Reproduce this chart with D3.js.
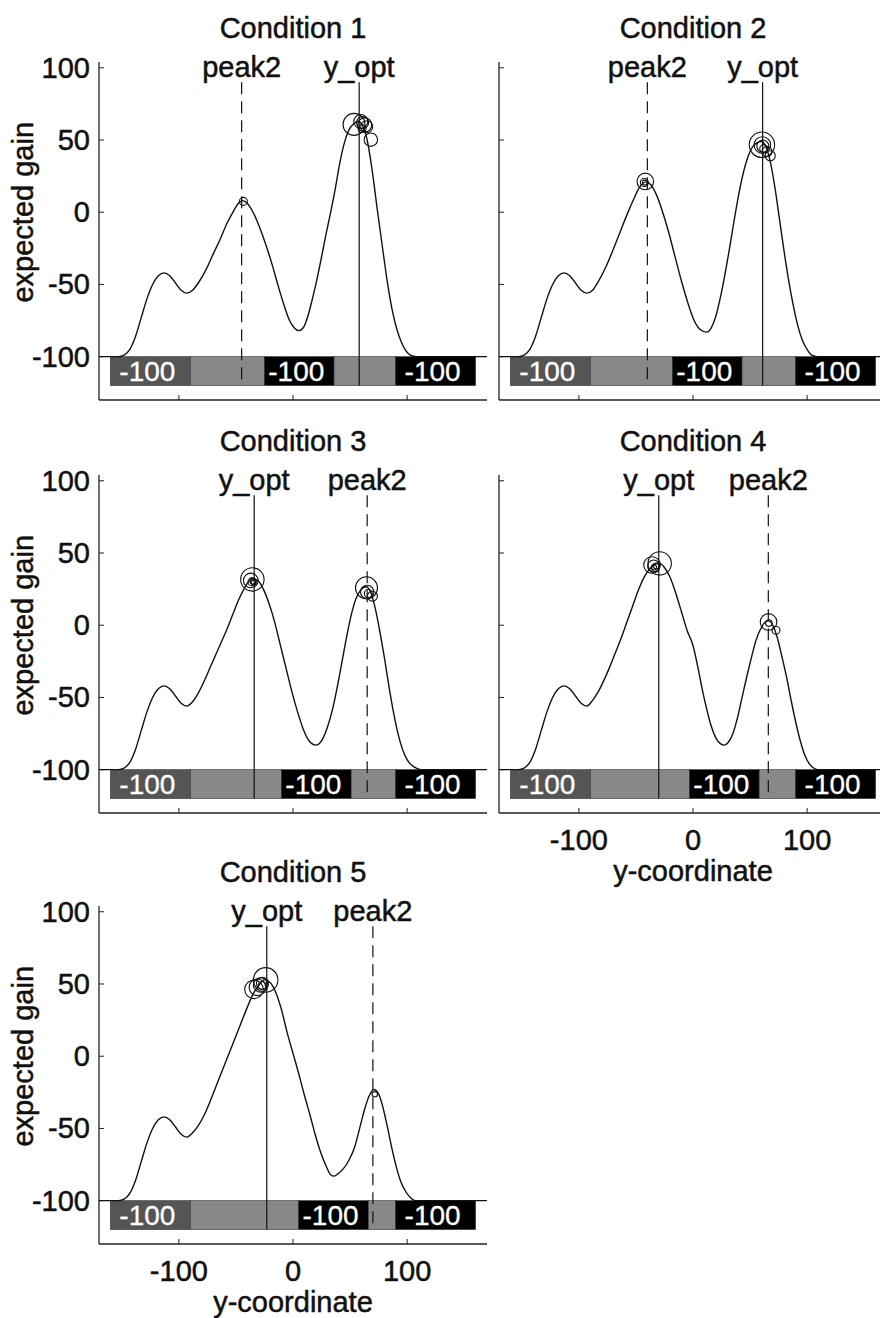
<!DOCTYPE html>
<html>
<head>
<meta charset="utf-8">
<script src="https://cdn.jsdelivr.net/npm/d3@7"></script>
<style>
  body { margin: 0; background: #fff; }
  text { font-family: "Liberation Sans", Arial, sans-serif; fill: #111; stroke: #111; stroke-width: 0.5px; }
  text.zlab { fill: #fff; stroke: #fff; stroke-width: 0.3px; }
</style>
</head>
<body>
<script>

var titles = ["Condition 1", "Condition 2", "Condition 3", "Condition 4", "Condition 5"]
var yTicks = [-100, -50, 0, 50, 100]
var xTicks = [-100, 0, 100]
var penaltyLabel = "-100"

// payoff zones under each plot
var zoneEdges = [-160, -90, 90, 160]
var blackStart = [-25, -18, -10, -3, 5]
var blackEnd = [36, 43, 51, 58, 66]

// marked positions
var peak2X = [-45, -40, 65, 66, 70]
var yOptX = [58, 61, -34, -30, -23]

// expected gain curves
var gain1 = [[-170,-100],[-153,-100],[-148,-99],[-143,-95],[-138,-86],[-133,-73],[-128,-60],[-123,-50],[-118,-44],[-113,-42],[-108,-44],[-103,-49],[-98,-54],[-93,-56],[-88,-54],
  [-83,-49],[-77,-41],[-70,-29],[-64,-19],[-58,-8],[-52,1],[-48,6],[-44,8],[-40,6],[-35,0],[-30,-9],[-24,-22],[-18,-37],[-13,-51],[-8,-64],[-3,-75],[1,-80],[5,-82],[9,-80],[13,-72],[17,-60],
  [20,-50],[25,-31],[29,-15],[33,0],[37,16],[41,34],[45,48],[49,57],[53,61],[57,63],[61,60],[65,50],[69,31],[74,1],[78,-22],[83,-50],[87,-68],[91,-81],[95,-90],[99,-96],[103,-99],[108,-100],[170,-100]]

var gain2 = [[-170,-100],[-153,-100],[-148,-99],[-143,-95],[-138,-86],[-133,-73],[-128,-60],[-123,-50],[-118,-44],[-113,-42],[-108,-44],[-103,-49],[-98,-54],[-93,-56],[-88,-54],
  [-83,-48],[-77,-39],[-70,-26],[-64,-14],[-58,-2],[-52,9],[-47,17],[-41,21],[-37,19],[-32,12],[-27,1],[-22,-12],[-16,-30],[-10,-48],[-4,-64],[1,-75],[6,-81],[12,-83],[16,-80],[20,-72],
  [24,-59],[28,-43],[32,-25],[36,-6],[40,12],[44,27],[48,38],[52,45],[56,48],[60,49],[64,45],[68,34],[72,16],[76,-6],[80,-28],[84,-48],[88,-65],[92,-79],[96,-89],[100,-95],[104,-99],[109,-100],[170,-100]]

var gain3 = [[-170,-100],[-153,-100],[-148,-99],[-143,-95],[-138,-86],[-133,-73],[-128,-60],[-123,-50],[-118,-44],[-113,-42],[-108,-44],[-103,-49],[-98,-54],[-93,-56],[-88,-53],
  [-83,-47],[-78,-39],[-73,-30],[-68,-21],[-63,-12],[-58,-3],[-53,7],[-48,17],[-43,25],[-39,30],[-36,32],[-31,31],[-26,25],[-21,15],[-16,2],[-11,-14],[-6,-30],[-1,-46],[4,-60],[9,-72],[14,-80],[20,-83],
  [25,-80],[30,-71],[35,-57],[39,-42],[43,-25],[47,-8],[51,7],[55,18],[59,24],[64,26.6],[68,23],[72,12],[76,-4],[80,-22],[84,-42],[88,-60],[92,-75],[96,-86],[100,-93],[104,-97],[108,-99],[112,-100],[170,-100]]

var gain4 = [[-170,-100],[-153,-100],[-148,-99],[-143,-95],[-138,-86],[-133,-73],[-128,-60],[-123,-50],[-118,-44],[-113,-42],[-108,-44],[-103,-49],[-98,-54],[-93,-56],[-88,-52],
  [-83,-46],[-78,-38],[-73,-29],[-68,-19],[-63,-9],[-58,2],[-53,13],[-48,24],[-43,33],[-38,39],[-34,42],[-30,43],[-25,40],[-20,33],[-15,22],[-10,9],[-5,-4],[0,-14],[4,-28],[8,-44],[12,-58],[16,-70],
  [20,-78],[24,-82],[27,-83],[31,-81],[35,-75],[39,-64],[43,-50],[47,-36],[51,-23],[55,-11],[59,-3],[63,2],[66,3],[70,0],[74,-9],[78,-22],[82,-36],[86,-52],[90,-67],[94,-80],[98,-90],[102,-96],[106,-99],[110,-100],[170,-100]]

var gain5 = [[-170,-100],[-153,-100],[-148,-99],[-143,-95],[-138,-86],[-133,-73],[-128,-60],[-123,-50],[-118,-44],[-113,-42],[-108,-44],[-103,-49],[-98,-54],[-93,-56],[-88,-53],
  [-83,-48],[-78,-41],[-73,-32],[-68,-22],[-63,-12],[-58,-2],[-52,10],[-46,22],[-40,34],[-35,43],[-30,49],[-25,53],[-20,51],[-15,44],[-10,32],[-5,16],[0,2],[5,-12],[10,-27],[15,-41],[19,-53],
  [24,-66],[29,-76],[33,-82],[36,-83],[40,-81],[44,-78],[49,-72],[54,-63],[59,-48],[63,-36],[67,-27],[71,-23],[75,-26],[79,-36],[83,-50],[87,-65],[91,-78],[95,-88],[99,-94],[103,-98],[107,-100],[170,-100]]

// observed end points: [x, gain, circle radius in px]
var obs1 = [[53.5,60.8,11],[59.4,62.8,7],[61,62,6],[62.9,60.5,7],[64.6,59.2,6],[60.5,58,4],[68.2,50.2,6.7],[-43.5,7.5,4]]
var obs2 = [[-41.8,21.3,8.3],[-42.6,20.6,4],[-42.2,20.5,2.5],[60.4,46.7,12.7],[60.8,46.5,8.3],[61.2,45.8,6],[62,44,4],[64.8,42,5],[67.7,39.1,5]]
var obs3 = [[-35.6,31.7,11.7],[-37,31,7.3],[-36,30,4],[-35,30.5,3],[-34.5,29.5,2.5],[64.4,25.9,11],[65,23,6.7],[66,22,4],[69.6,20.1,5]]
var obs4 = [[-29.2,42.8,11.7],[-35.9,41.7,8.3],[-34.5,41,6],[-33,40,4],[-32,41,3],[-34,40,2.5],[66.2,2.3,8.3],[66.5,1.5,3.3],[72.7,-3.5,4]]
var obs5 = [[-24,52.8,12.3],[-34.2,46.3,9.3],[-31.2,47.7,8.3],[-28.3,49.3,7.3],[-26.8,50.5,6],[-27,49,4],[71.7,-26.4,2.7]]

var gains = [gain1, gain2, gain3, gain4, gain5]
var obs = [obs1, obs2, obs3, obs4, obs5]

var W = 880, H = 1318
var colX = [99, 499]
var rowY = [62, 475, 906]
var plotW = 388, plotH = 338
var FS = 29

var svg = d3.select("body").append("svg")
            .attr("width", W)
            .attr("height", H)

for (var i = 0; i < 5; i++)
  draw_panel(i)


function draw_panel(i){

  var px = colX[i % 2], py = rowY[Math.floor(i / 2)]
  var x = d3.scaleLinear().domain([-170, 170]).range([px, px + plotW])
  var y = d3.scaleLinear().domain([-130, 104]).range([py + plotH, py])
  var g = svg.append("g").attr("id", "panel" + (i + 1))

  // Zone bar
  var segs = [
    {a: zoneEdges[0], b: zoneEdges[1], fill: "#555", lab: true},
    {a: zoneEdges[1], b: blackStart[i], fill: "#888", lab: false},
    {a: blackStart[i], b: blackEnd[i], fill: "#000", lab: true},
    {a: blackEnd[i], b: zoneEdges[2], fill: "#888", lab: false},
    {a: zoneEdges[2], b: zoneEdges[3], fill: "#000", lab: true}
  ]

  g.selectAll("rect.zone").data(segs).enter().append("rect")
      .attr("class", "zone")
      .attr("x", d => x(d.a))
      .attr("y", y(-100))
      .attr("width", d => x(d.b) - x(d.a))
      .attr("height", y(-120) - y(-100))
      .attr("fill", d => d.fill)
      .attr("stroke", "#333")
      .attr("stroke-width", 0.6)

  g.selectAll("text.zlab").data(segs.filter(d => d.lab)).enter().append("text")
      .attr("class", "zlab")
      .attr("x", d => (x(d.a) + x(d.b)) / 2 - 3)
      .attr("y", y(-110) + 10)
      .attr("text-anchor", "middle")
      .style("font-size", "28px")
      .text(penaltyLabel)

  // Axes
  g.append("line")
      .attr("x1", x(-170)).attr("x2", x(-170))
      .attr("y1", y(-130)).attr("y2", y(104))
      .attr("stroke", "#222").attr("stroke-width", 1.3)
  g.append("line")
      .attr("x1", x(-170)).attr("x2", x(170))
      .attr("y1", y(-130)).attr("y2", y(-130))
      .attr("stroke", "#222").attr("stroke-width", 1.3)

  g.selectAll("line.yt").data(yTicks).enter().append("line")
      .attr("class", "yt")
      .attr("x1", x(-170)).attr("x2", x(-170) + 5)
      .attr("y1", d => y(d)).attr("y2", d => y(d))
      .attr("stroke", "#222").attr("stroke-width", 1)

  g.selectAll("line.xt").data(xTicks).enter().append("line")
      .attr("class", "xt")
      .attr("x1", d => x(d)).attr("x2", d => x(d))
      .attr("y1", y(-130)).attr("y2", y(-130) - 5)
      .attr("stroke", "#222").attr("stroke-width", 1)

  if (i % 2 == 0){
    g.selectAll("text.yl").data(yTicks).enter().append("text")
        .attr("class", "yl")
        .attr("x", x(-170) - 9)
        .attr("y", d => y(d) + 10)
        .attr("text-anchor", "end")
        .style("font-size", FS + "px")
        .text(d => d)

    g.append("text")
        .attr("transform", "translate(" + (px - 66) + "," + y(0) + ") rotate(-90)")
        .attr("text-anchor", "middle")
        .style("font-size", FS + "px")
        .text("expected gain")
  }

  if (i >= 3){
    g.selectAll("text.xl").data(xTicks).enter().append("text")
        .attr("class", "xl")
        .attr("x", d => x(d))
        .attr("y", y(-130) + 37)
        .attr("text-anchor", "middle")
        .style("font-size", FS + "px")
        .text(d => d)

    g.append("text")
        .attr("x", x(0))
        .attr("y", y(-130) + 68)
        .attr("text-anchor", "middle")
        .style("font-size", FS + "px")
        .text("y-coordinate")
  }

  // Title
  g.append("text")
      .attr("x", x(0))
      .attr("y", py - 24)
      .attr("text-anchor", "middle")
      .style("font-size", FS + "px")
      .text(titles[i])

  // Marker lines
  var marks = [
    {v: peak2X[i], name: "peak2", dash: "12,7"},
    {v: yOptX[i], name: "y_opt", dash: null}
  ]

  g.selectAll("line.mark").data(marks).enter().append("line")
      .attr("class", "mark")
      .attr("x1", d => x(d.v)).attr("x2", d => x(d.v))
      .attr("y1", y(90)).attr("y2", y(-120))
      .attr("stroke", "#111").attr("stroke-width", 1.2)
      .attr("stroke-dasharray", d => d.dash)

  g.selectAll("text.mark").data(marks).enter().append("text")
      .attr("class", "mark")
      .attr("x", d => x(d.v))
      .attr("y", y(90) - 5)
      .attr("text-anchor", "middle")
      .style("font-size", FS + "px")
      .text(d => d.name)

  // Gain curve
  var line = d3.line()
               .x(d => x(d[0]))
               .y(d => y(d[1]))
               .curve(d3.curveMonotoneX)

  g.append("path")
      .datum(gains[i])
      .attr("d", line)
      .attr("fill", "none")
      .attr("stroke", "#111")
      .attr("stroke-width", 1.4)

  // Observed points
  g.selectAll("circle").data(obs[i]).enter().append("circle")
      .attr("cx", d => x(d[0]))
      .attr("cy", d => y(d[1]))
      .attr("r", d => d[2])
      .attr("fill", "none")
      .attr("stroke", "#111")
      .attr("stroke-width", 1.1)
}

</script>
</body>
</html>
